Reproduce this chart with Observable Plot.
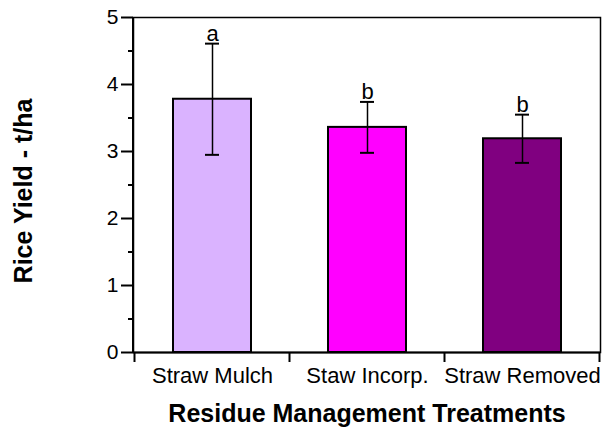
<!DOCTYPE html>
<html>
<head>
<meta charset="utf-8">
<script src="https://cdn.jsdelivr.net/npm/d3@7"></script>
<script src="https://cdn.jsdelivr.net/npm/@observablehq/plot@0.6"></script>
<style>
  html, body { margin: 0; padding: 0; background: #fff; }
  svg { display: block; }
</style>
</head>
<body>
<div id="chart"></div>
<script>
const categories = ["Straw Mulch", "Staw Incorp.", "Straw Removed"];
const yields = [3.78, 3.36, 3.19];
const errors = [0.83, 0.38, 0.36];
const letters = ["a", "b", "b"];
const colors = ["#DAB3FF", "#FF00FF", "#800080"];
const majorTicks = [0, 1, 2, 3, 4, 5];
const minorTicks = [0.5, 1.5, 2.5, 3.5, 4.5];
const xTitle = "Residue Management Treatments";
const yTitle = "Rice Yield - t/ha";

const data = categories.map((c, i) => ({
  cat: c, y: yields[i], lo: yields[i] - errors[i], hi: yields[i] + errors[i],
  letter: letters[i], color: colors[i]
}));

const font = "'Liberation Sans', Arial, Helvetica, sans-serif";

// ticks at band boundaries on the x axis (function mark)
function boundaryTicks(index, scales, values, dims) {
  const x = scales.x;
  const step = x(categories[1]) - x(categories[0]);
  const bw = typeof x.bandwidth === "function" ? x.bandwidth() : step * 0.5;
  const gap = (step - bw) / 2;
  const xs = categories.map(c => x(c) - gap);
  xs.push(x(categories[categories.length - 1]) + bw + gap);
  const y0 = dims.height - dims.marginBottom;
  const g = d3.create("svg:g");
  g.selectAll("line").data(xs).join("line")
    .attr("x1", d => d).attr("x2", d => d)
    .attr("y1", y0).attr("y2", y0 + 10)
    .attr("stroke", "black").attr("stroke-width", 2);
  // thicker left axis line
  g.append("line")
    .attr("x1", dims.marginLeft).attr("x2", dims.marginLeft)
    .attr("y1", dims.marginTop).attr("y2", y0)
    .attr("stroke", "black").attr("stroke-width", 2);
  return g.node();
}

const chart = Plot.plot({
  width: 602,
  height: 430,
  marginLeft: 133,
  marginRight: 2,
  marginTop: 17,
  marginBottom: 78,
  style: { fontFamily: font, background: "white", color: "black" },
  x: { type: "band", domain: categories, paddingInner: 0.5, paddingOuter: 0.25 },
  y: { domain: [0, 5] },
  marks: [
    Plot.barY(data, { x: "cat", y: "y", fill: "color", stroke: "black", strokeWidth: 2 }),
    Plot.ruleX(data, { x: "cat", y1: "lo", y2: "hi", stroke: "black", strokeWidth: 1.5 }),
    Plot.tickY(data, { x: "cat", y: "hi", stroke: "black", strokeWidth: 2, insetLeft: 32, insetRight: 32 }),
    Plot.tickY(data, { x: "cat", y: "lo", stroke: "black", strokeWidth: 2, insetLeft: 32, insetRight: 32 }),
    Plot.text(data, { x: "cat", y: "hi", text: "letter", lineAnchor: "bottom", dy: -3, fontSize: 22, fill: "black" }),
    Plot.frame({ stroke: "black", strokeWidth: 1.5 }),
    Plot.axisY({ ticks: majorTicks, tickSize: 12, tickPadding: 3, tickFormat: d3.format("d"), fontSize: 21, strokeWidth: 2, label: null }),
    Plot.axisY({ ticks: minorTicks, tickSize: 5, text: null, strokeWidth: 2, label: null }),
    Plot.axisX({ tickSize: 0, tickPadding: 15, fontSize: 22, label: null }),
    Plot.ruleY([0], { stroke: "black", strokeWidth: 2 }),
    boundaryTicks,
    Plot.text([yTitle], { frameAnchor: "left", textAnchor: "middle", dx: -110, dy: 6, rotate: -90, fontSize: 25, fontWeight: "bold", fill: "black" }),
    Plot.text([xTitle], { frameAnchor: "bottom", dy: 69, fontSize: 25, fontWeight: "bold", fill: "black" })
  ]
});

document.getElementById("chart").appendChild(chart);
</script>
</body>
</html>
